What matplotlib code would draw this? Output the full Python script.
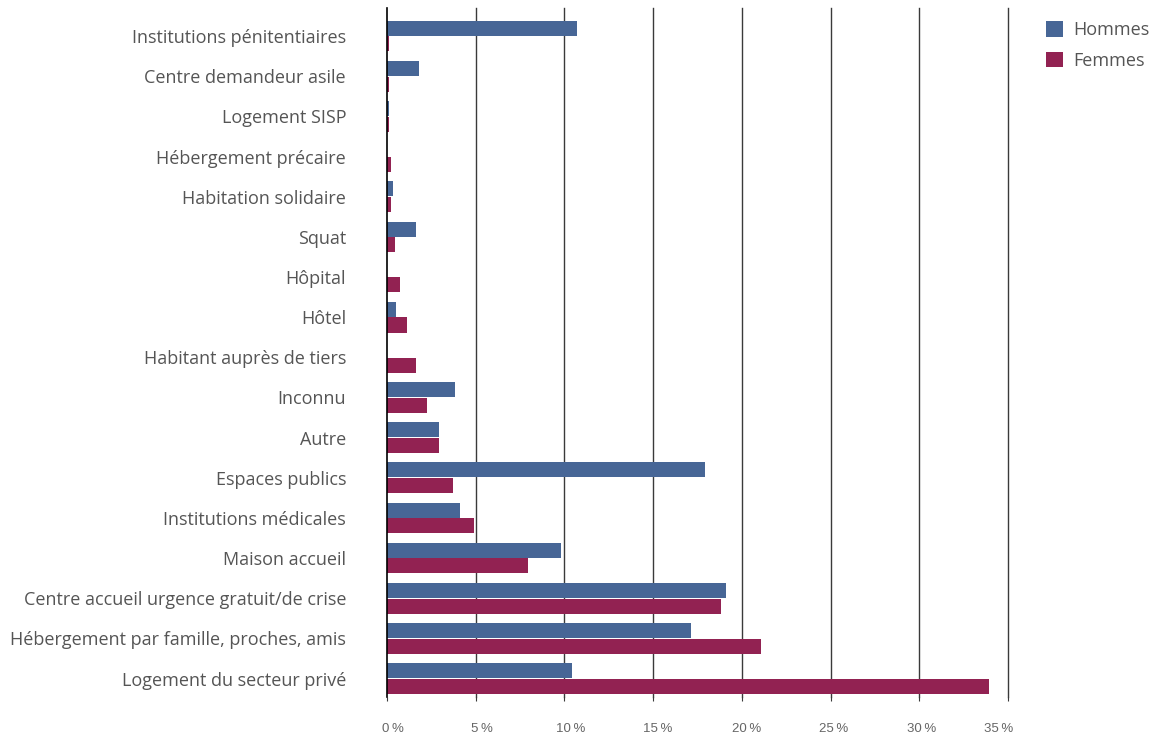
import matplotlib
matplotlib.use("Agg")
import matplotlib.pyplot as plt
from matplotlib.patches import Patch
from matplotlib.transforms import ScaledTranslation
import numpy as np

categories = [
    "Institutions pénitentiaires",
    "Centre demandeur asile",
    "Logement SISP",
    "Hébergement précaire",
    "Habitation solidaire",
    "Squat",
    "Hôpital",
    "Hôtel",
    "Habitant auprès de tiers",
    "Inconnu",
    "Autre",
    "Espaces publics",
    "Institutions médicales",
    "Maison accueil",
    "Centre accueil urgence gratuit/de crise",
    "Hébergement par famille, proches, amis",
    "Logement du secteur privé",
]
hommes = [10.7, 1.8, 0.1, 0.0, 0.33, 1.64, 0.0, 0.5, 0.0, 3.82, 2.92,
          17.95, 4.1, 9.8, 19.1, 17.15, 10.43]
femmes = [0.1, 0.1, 0.1, 0.2, 0.2, 0.45, 0.73, 1.13, 1.64, 2.24, 2.92,
          3.71, 4.9, 7.94, 18.84, 21.1, 33.92]
x_ticks = [0, 5, 10, 15, 20, 25, 30, 35]
tick_labels = [f"{v}\u2009%" for v in x_ticks]

col_h = "#476696"
col_f = "#922252"
txt = "#555555"

plt.rcParams["font.family"] = ["Open Sans", "DejaVu Sans"]

fig = plt.figure(figsize=(11.65, 7.42), dpi=100)
W, H = 1165, 742
ax = fig.add_axes([387 / W, (H - 697) / H, (1008 - 387) / W, (697 - 8) / H])

y = np.arange(len(categories))
bh = 0.375
ax.barh(y - 0.195, hommes, height=bh, color=col_h, zorder=3)
ax.barh(y + 0.195, femmes, height=bh, color=col_f, zorder=3)

ax.set_xlim(0, 35)
ax.set_ylim(len(categories) - 1 + 0.46, -0.70)

for v in x_ticks[1:]:
    ax.axvline(v, color="#3a3a3a", lw=1.0, zorder=1, clip_on=False)

for s in ["top", "right", "bottom"]:
    ax.spines[s].set_visible(False)
ax.spines["left"].set_color("black")
ax.spines["left"].set_linewidth(1.2)
ax.spines["left"].set_zorder(4)

ax.set_yticks(y)
ax.set_yticklabels(categories, fontsize=13, color=txt)
ax.tick_params(axis="y", length=0, pad=29.5)

ax.set_xticks(x_ticks)
ax.set_xticklabels(tick_labels, fontsize=9.5, color="#666666",
                   family=["Liberation Sans", "DejaVu Sans"])
ax.tick_params(axis="x", length=3, width=0.8, color="#3a3a3a", pad=16)
# small horizontal nudges of the percentage labels
shifts = [6, 6, 6, 5, 5, 3, 2, -9]
for lab, dx in zip(ax.get_xticklabels(), shifts):
    lab.set_transform(lab.get_transform() + ScaledTranslation(dx / 100, 0, fig.dpi_scale_trans))

handles = [Patch(facecolor=col_h, label="Hommes"),
           Patch(facecolor=col_f, label="Femmes")]
fig.legend(handles=handles, loc="upper left", bbox_to_anchor=(1030 / W, 1 - 5 / H),
           frameon=False, fontsize=13, labelcolor=txt, handlelength=0.92,
           handleheight=0.92, handletextpad=0.55, labelspacing=0.68)

fig.savefig("out.png", dpi=100)
